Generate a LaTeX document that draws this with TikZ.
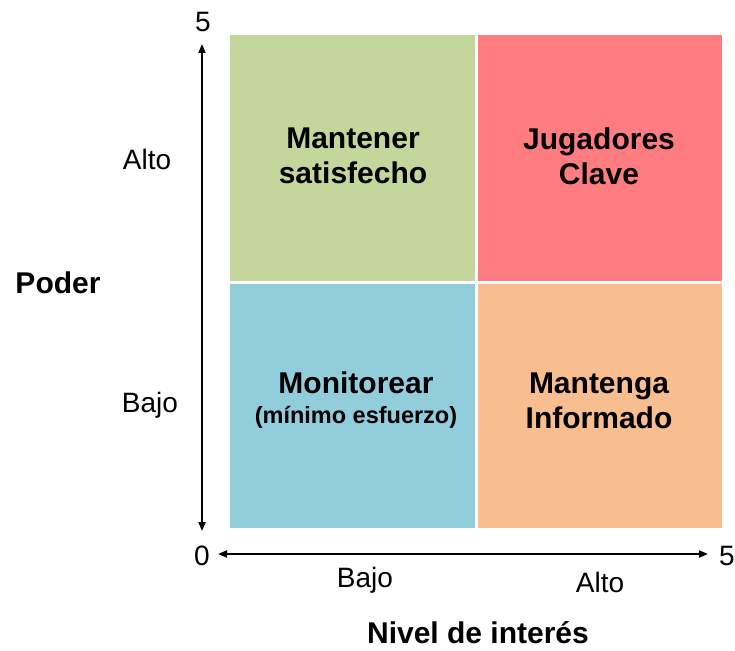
\documentclass[tikz,border=0pt]{standalone}
\usepackage{fontspec}
\setmainfont{Liberation Sans}
\usetikzlibrary{arrows.meta}
\definecolor{cgreen}{HTML}{C3D69B}
\definecolor{cred}{HTML}{FF7C80}
\definecolor{cblue}{HTML}{92CDDC}
\definecolor{corange}{HTML}{F8BE8F}
\begin{document}
\begin{tikzpicture}[x=1pt,y=-1pt]
	\useasboundingbox (0,0) rectangle (735,650);
	\tikzstyle{quad}=[font=\fontsize{30}{35}\selectfont\bfseries,align=center]
	\tikzstyle{lbl}=[font=\fontsize{28}{34}\selectfont,inner sep=0pt]
	\tikzstyle{axis}=[line width=2pt,{Triangle[length=9pt,width=7pt]}-{Triangle[length=9pt,width=7pt]}]
	% quadrants
	\fill[cgreen]  (230,35)  rectangle (475,281);
	\fill[cred]    (478,35)  rectangle (722,281);
	\fill[cblue]   (230,284) rectangle (475,528);
	\fill[corange] (478,284) rectangle (722,528);
	\path (353,156) node[quad] (sat) {Mantener\\satisfecho};
	\path (599,156) node[quad] (clave) {Jugadores\\Clave};
	\path (356,400) node[quad] (mon) {Monitorear\\[-5pt]{\fontsize{23.5}{27}\selectfont(mínimo esfuerzo)}};
	\path (599,401) node[quad] (inf) {Mantenga\\Informado};
	% axes
	\coordinate (ytop) at (202,44);
	\coordinate (ybot) at (202,531);
	\coordinate (xleft) at (218,554);
	\coordinate (xright) at (708,554);
	\draw[axis] (ybot) -- (ytop);
	\draw[axis] (xleft) -- (xright);
	\path (203,22)  node[lbl] (ymax) {5};
	\path (202,556) node[lbl] (orig) {0};
	\path (727,556) node[lbl] (xmax) {5};
	\path (147,159) node[lbl] (yalto) {Alto};
	\path (150,405) node[lbl] (ybajo) {Bajo};
	\path (58,283)  node[lbl,font=\fontsize{30}{35}\selectfont\bfseries] (poder) {Poder};
	\path (365,580) node[lbl] (xbajo) {Bajo};
	\path (600,582) node[lbl] (xalto) {Alto};
	\path (478,633) node[lbl,font=\fontsize{30}{35}\selectfont\bfseries] (interes) {Nivel de interés};
\end{tikzpicture}
\end{document}
